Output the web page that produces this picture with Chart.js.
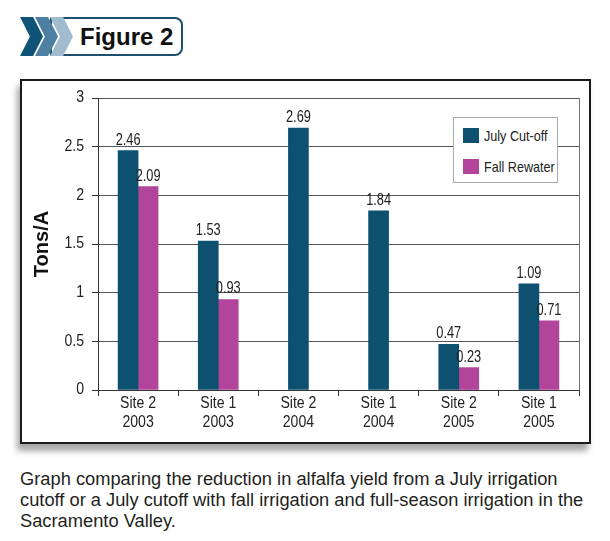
<!DOCTYPE html>
<html>
<head>
<meta charset="utf-8">
<script src="https://cdn.jsdelivr.net/npm/chart.js@4.4.1/dist/chart.umd.min.js"></script>
<style>
  body { margin: 0; background: #fff; width: 610px; height: 541px; position: relative; overflow: hidden; }
  .chev { position: absolute; top: 17px; width: 23px; height: 39px;
          clip-path: polygon(0 0, 57% 0, 100% 50%, 57% 100%, 0 100%, 43% 50%); }
  #c1 { left: 20px; background: #0f5377; }
  #c2 { left: 35px; background: #4c7fa1; }
  #c3 { left: 50px; background: #a2bccf; }
  #tag { position: absolute; left: 50px; top: 17px; width: 133px; height: 39px; box-sizing: border-box;
         border: 2px solid #1d4f6e; border-radius: 0 8px 8px 0; background: #fff;
         font: bold 24px "Liberation Sans", Arial, sans-serif; color: #111;
         padding-left: 28px; line-height: 35px; }
  #frame { position: absolute; left: 20px; top: 79px; width: 571px; height: 365px; box-sizing: border-box;
           border: 2px solid #1a1a1a; background: #fff; box-shadow: -3px 7px 6px rgba(0,0,0,0.35); }
  #chart1 { position: absolute; left: 22px; top: 81px; }
  #legend { position: absolute; left: 453px; top: 117px; width: 105px; height: 66px; box-sizing: border-box;
            border: 1px solid #aaa; background: #fff; padding: 9px 0 0 9px; }
  .item { display: flex; align-items: center; white-space: nowrap; height: 16px; margin-bottom: 15px;
          font: 15px "Liberation Sans", Arial, sans-serif; color: #222; }
  .item span.box { width: 16px; height: 15px; margin-right: 5px; flex: none; }
  .item span.txt { display: inline-block; transform: scaleX(0.84); transform-origin: 0 50%; }
  #caption { position: absolute; left: 20px; top: 468px; width: 600px; white-space: nowrap;
             font: 18.3px "Liberation Sans", Arial, sans-serif; line-height: 21px; color: #231f20; }
</style>
</head>
<body>
<div id="tag">Figure 2</div>
<div class="chev" id="c1"></div>
<div class="chev" id="c2"></div>
<div class="chev" id="c3"></div>
<div id="frame"></div>
<canvas id="chart1" width="567" height="361"></canvas>
<div id="legend"></div>
<div id="caption">Graph comparing the reduction in alfalfa yield from a July irrigation<br>cutoff or a July cutoff with fall irrigation and full-season irrigation in the<br>Sacramento Valley.</div>

<script>
// sites / years along the bottom
var sites = [["Site 2", "2003"], ["Site 1", "2003"], ["Site 2", "2004"], ["Site 1", "2004"], ["Site 2", "2005"], ["Site 1", "2005"]];
var julyCutoff = [2.46, 1.53, 2.69, 1.84, 0.47, 1.09];
var fallRewater = [2.09, 0.93, null, null, 0.23, 0.71];
var yTicksMin = 0, yTicksMax = 3, yTicksStep = 0.5;

// the original uses a condensed face; squeeze Liberation Sans instead
var fontFamily = '"Liberation Sans", Arial, sans-serif';
function narrowText(ctx, text, x, y, align, sx) {
    ctx.save();
    ctx.translate(x, y);
    ctx.scale(sx, 1);
    ctx.textAlign = align;
    ctx.fillText(text, 0, 0);
    ctx.restore();
}

// tick labels + value labels
var narrowLabels = {
    id: 'narrowLabels',
    afterDraw: function (chart) {
        var ctx = chart.ctx;
        var xs = chart.scales.x, ys = chart.scales.y;
        ctx.save();
        ctx.font = '16px ' + fontFamily;
        ctx.fillStyle = '#222';
        ctx.textBaseline = 'middle';
        ys.ticks.forEach(function (t) {
            narrowText(ctx, String(Math.round(t.value * 10) / 10), ys.right - 14, ys.getPixelForValue(t.value), 'right', 0.88);
        });
        chart.data.labels.forEach(function (lab, i) {
            var x = xs.getPixelForTick(i);
            narrowText(ctx, lab[0], x, xs.top + 14, 'center', 0.88);
            narrowText(ctx, lab[1], x, xs.top + 33, 'center', 0.88);
        });
        ctx.textBaseline = 'alphabetic';
        chart.data.datasets.forEach(function (ds, i) {
            chart.getDatasetMeta(i).data.forEach(function (bar, j) {
                var v = ds.data[j];
                if (v === null || v === undefined) return;
                narrowText(ctx, v.toFixed(2), bar.x, bar.y - 6, 'center', 0.8);
            });
        });
        ctx.restore();
    }
};

var ctxChart1 = document.getElementById('chart1').getContext('2d');
var chart1 = new Chart(ctxChart1, {
    type: 'bar',
    plugins: [narrowLabels],
    data: {
        labels: sites,
        datasets: [{
            label: "July Cut-off",
            data: julyCutoff,
            backgroundColor: '#0d5070',
        }, {
            label: "Fall Rewater",
            data: fallRewater,
            backgroundColor: '#b3449b',
        }]
    }, options: {
        responsive: false,
        animation: false,
        devicePixelRatio: 1,
        barThickness: 20,
        skipNull: true,
        layout: { padding: { left: 0, top: 17, right: 10, bottom: 0 } },
        plugins: {
            legend: { display: false },
            title: { display: false },
            tooltip: { enabled: false }
        }, scales: {
            x: {
                grid: {
                    offset: true,
                    drawOnChartArea: true,
                    color: function (c) { return c.type === 'scale' ? '#777' : 'rgba(0,0,0,0)'; },
                    tickColor: '#333',
                    tickLength: 6
                },
                border: { color: '#333' },
                ticks: { display: false },
                afterFit: function (s) { s.height = 52; }
            },
            y: {
                min: yTicksMin,
                max: yTicksMax,
                ticks: { stepSize: yTicksStep, display: false },
                grid: { color: '#555', tickColor: '#333', tickLength: 6 },
                border: { color: '#333' },
                title: {
                    display: true,
                    text: 'Tons/A',
                    color: '#111',
                    padding: { top: 8, bottom: 0 },
                    font: { family: fontFamily, size: 20, weight: 'bold' }
                },
                afterFit: function (s) { s.width = 76; }
            }
        }
    },
});

// legend box inside the plot
var legendEl = document.getElementById('legend');
chart1.data.datasets.forEach(function (ds) {
    var row = document.createElement('div');
    row.className = 'item';
    row.innerHTML = '<span class="box" style="background:' + ds.backgroundColor + '"></span><span class="txt">' + ds.label + '</span>';
    legendEl.appendChild(row);
});
</script>
</body>
</html>
